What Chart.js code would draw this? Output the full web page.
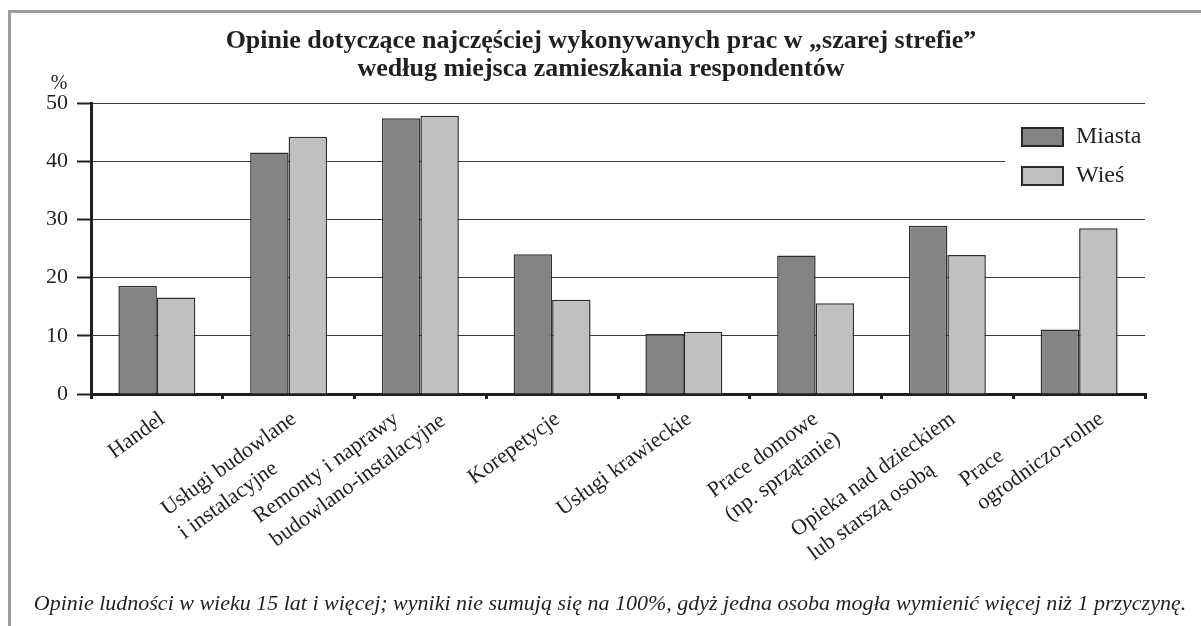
<!DOCTYPE html>
<html>
<head>
<meta charset="utf-8">
<script src="https://cdn.jsdelivr.net/npm/chart.js@4.4.1/dist/chart.umd.min.js"></script>
<style>
  html, body { margin: 0; padding: 0; background: #fff; }
  #wrap { width: 1201px; height: 626px; }
</style>
</head>
<body>
<div id="wrap"><canvas id="chart" width="1201" height="626"></canvas></div>
<script>
// dane
const categories = [
  ['Handel'],
  ['Usługi budowlane', 'i instalacyjne'],
  ['Remonty i naprawy', 'budowlano-instalacyjne'],
  ['Korepetycje'],
  ['Usługi krawieckie'],
  ['Prace domowe', '(np. sprzątanie)'],
  ['Opieka nad dzieckiem', 'lub starszą osobą'],
  ['Prace', 'ogrodniczo-rolne']
];
const seriesNames = ['Miasta', 'Wieś'];
const miasta = [18.6, 41.5, 47.4, 24.0, 10.3, 23.8, 28.9, 11.1];
const wies = [16.6, 44.2, 47.8, 16.2, 10.7, 15.6, 23.9, 28.5];
const yTicks = [0, 10, 20, 30, 40, 50];
const titleLines = [
  'Opinie dotyczące najczęściej wykonywanych prac w „szarej strefie”',
  'według miejsca zamieszkania respondentów'
];
const yUnit = '%';
const footNote = 'Opinie ludności w wieku 15 lat i więcej; wyniki nie sumują się na 100%, gdyż jedna osoba mogła wymienić więcej niż 1 przyczynę.';

const INK = '#231f20';
const SERIF = '"Liberation Serif", "Times New Roman", serif';
const LABEL_ANGLE = 36;
const LABEL_LH = 29;

// ramka, tytuł, jednostka i przypis
const decorPlugin = {
  id: 'decor',
  beforeDraw(chart) {
    const ctx = chart.ctx;
    ctx.save();
    ctx.fillStyle = '#fff';
    ctx.fillRect(0, 0, chart.width, chart.height);
    ctx.strokeStyle = '#9d9d9d';
    ctx.lineWidth = 3;
    ctx.beginPath();
    ctx.moveTo(9.5, chart.height);
    ctx.lineTo(9.5, 11.5);
    ctx.lineTo(chart.width, 11.5);
    ctx.stroke();
    ctx.restore();
  },
  afterDraw(chart) {
    const ctx = chart.ctx;
    ctx.save();
    ctx.fillStyle = INK;
    ctx.textAlign = 'center';
    ctx.textBaseline = 'alphabetic';
    ctx.font = 'bold 26px ' + SERIF;
    titleLines.forEach((t, i) => ctx.fillText(t, 601, 48 + i * 28));
    ctx.font = '20px ' + SERIF;
    ctx.fillText(yUnit, 59, 89);
    ctx.font = 'italic 22px ' + SERIF;
    ctx.fillText(footNote, 610, 610);
    ctx.restore();
  }
};

// legenda na białym tle w obszarze wykresu
const legendPlugin = {
  id: 'boxLegend',
  beforeDatasetsDraw(chart) {
    const ctx = chart.ctx;
    const area = chart.chartArea;
    ctx.save();
    ctx.fillStyle = '#fff';
    ctx.fillRect(1005, area.top + 8, area.right - 1005 + 2, 100);
    ctx.font = '24px ' + SERIF;
    ctx.textBaseline = 'middle';
    chart.data.datasets.forEach((ds, i) => {
      const y = 128 + i * 39;
      ctx.fillStyle = ds.backgroundColor;
      ctx.fillRect(1022, y, 41, 18);
      ctx.strokeStyle = '#2a2a2a';
      ctx.lineWidth = 2;
      ctx.strokeRect(1022, y, 41, 18);
      ctx.fillStyle = INK;
      ctx.fillText(ds.label, 1076, y + 9);
    });
    ctx.restore();
  }
};

// ukośne, wielowierszowe etykiety osi X (wyrównane do lewej)
const labelPlugin = {
  id: 'rotLabels',
  afterDraw(chart) {
    const ctx = chart.ctx;
    const xs = chart.scales.x;
    const th = LABEL_ANGLE * Math.PI / 180;
    const s = Math.sin(th), c = Math.cos(th);
    ctx.save();
    ctx.font = '22px ' + SERIF;
    ctx.fillStyle = INK;
    ctx.textAlign = 'left';
    ctx.textBaseline = 'top';
    categories.forEach((lines, i) => {
      const widths = lines.map(l => ctx.measureText(l).width);
      const W = Math.max(...widths);
      const lift = Math.min(...widths.map((w, k) => (W - w) * s + k * LABEL_LH * c));
      const tx = xs.getPixelForValue(i) - 1;
      const ty = xs.top + 14 - lift;
      ctx.save();
      ctx.translate(tx, ty);
      ctx.rotate(-th);
      lines.forEach((l, k) => ctx.fillText(l, -W, k * LABEL_LH));
      ctx.restore();
    });
    ctx.restore();
  }
};

new Chart(document.getElementById('chart'), {
  type: 'bar',
  data: {
    labels: categories.map(l => l.join(' ')),
    datasets: [
      { label: seriesNames[0], data: miasta, backgroundColor: '#858482' },
      { label: seriesNames[1], data: wies, backgroundColor: '#c1c0be' }
    ]
  },
  options: {
    responsive: false,
    animation: false,
    devicePixelRatio: 1,
    layout: { padding: { top: 103, right: 56, bottom: 222, left: 0 } },
    datasets: {
      bar: {
        barPercentage: 1,
        categoryPercentage: 0.584,
        borderColor: '#2e2e2e',
        borderWidth: 1.5
      }
    },
    plugins: {
      legend: { display: false },
      title: { display: false },
      tooltip: { enabled: false }
    },
    scales: {
      x: {
        type: 'category',
        offset: true,
        grid: {
          offset: true,
          drawOnChartArea: false,
          drawTicks: true,
          tickLength: 5,
          lineWidth: 3,
          color: INK
        },
        border: { display: true, width: 3, color: INK },
        ticks: { display: false },
        afterFit(scale) { scale.height = 10; }
      },
      y: {
        min: 0,
        max: 50,
        afterBuildTicks(scale) { scale.ticks = yTicks.map(v => ({ value: v })); },
        ticks: {
          font: { family: SERIF, size: 22 },
          color: INK,
          padding: 9
        },
        grid: {
          color: '#3a3a3a',
          lineWidth: 1,
          tickLength: 14,
          tickColor: INK,
          tickWidth: 2
        },
        border: { display: true, width: 3, color: INK },
        afterFit(scale) { scale.width = 91; }
      }
    }
  },
  plugins: [decorPlugin, legendPlugin, labelPlugin]
});
</script>
</body>
</html>
